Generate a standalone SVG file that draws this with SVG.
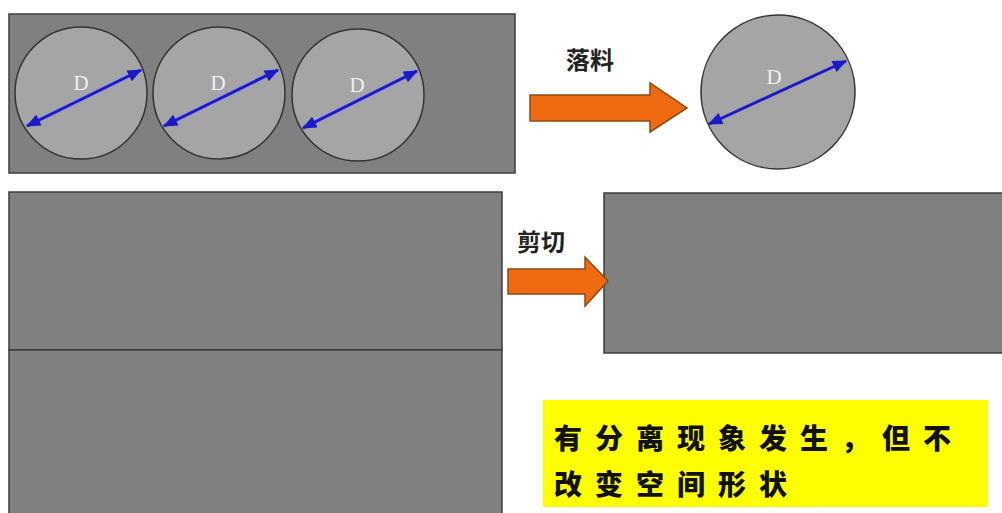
<svg xmlns="http://www.w3.org/2000/svg" width="1002" height="513" viewBox="0 0 1002 513">
<style>
.plate{fill:#808080;stroke:#3c3c3c;stroke-width:1.5}
.disc{fill:#a5a5a5;stroke:#333;stroke-width:1.5}
.dim{stroke:#1a1ac8;stroke-width:3;marker-start:url(#ah);marker-end:url(#ah)}
.halo{stroke:#8f8fff;stroke-width:5;opacity:0.5}
.d{font-family:"Liberation Serif",serif;font-size:21px;fill:#f0f0f0}
.lbl{font-family:"Noto Sans CJK SC","Noto Sans",sans-serif;font-size:24px;font-weight:bold;fill:#222}
.big{fill:#f06a12;stroke:#8a4a14;stroke-width:1.5}
.note{font-family:"Noto Sans CJK SC","Noto Sans",sans-serif;font-size:28px;font-weight:900;fill:#111;letter-spacing:13px}
</style>
<defs>
<marker id="ah" viewBox="0 0 12 10" refX="11" refY="5" markerWidth="5.5" markerHeight="4" orient="auto-start-reverse" markerUnits="strokeWidth">
<path d="M0,0 L12,5 L0,10 z" fill="#1a1ac8"/>
</marker>
</defs>
<rect width="1002" height="513" fill="#fff"/>
<g id="strip">
<rect class="plate" x="9" y="14" width="506" height="159"/>
</g>
<g id="blank1">
<circle class="disc" cx="81" cy="93" r="66"/>
<line class="halo" x1="27" y1="126" x2="141" y2="70"/>
<line class="dim" x1="27" y1="126" x2="141" y2="70"/>
<text class="d" x="81" y="90" text-anchor="middle">D</text>
</g>
<g id="blank2">
<circle class="disc" cx="219" cy="93" r="66"/>
<line class="halo" x1="164" y1="126" x2="278" y2="70"/>
<line class="dim" x1="164" y1="126" x2="278" y2="70"/>
<text class="d" x="218" y="90" text-anchor="middle">D</text>
</g>
<g id="blank3">
<circle class="disc" cx="358" cy="95" r="66"/>
<line class="halo" x1="303" y1="128" x2="417" y2="71"/>
<line class="dim" x1="303" y1="128" x2="417" y2="71"/>
<text class="d" x="357" y="92" text-anchor="middle">D</text>
</g>
<g id="result-disc">
<circle class="disc" cx="778" cy="92" r="77"/>
<line class="dim" x1="709" y1="124" x2="846" y2="61"/>
<text class="d" x="774" y="84" text-anchor="middle">D</text>
</g>
<g id="sheet">
<rect class="plate" x="9" y="192" width="493" height="158"/>
<rect class="plate" x="9" y="350" width="493" height="170"/>
</g>
<g id="cut-piece">
<rect class="plate" x="604" y="193" width="402" height="160"/>
</g>
<g id="note">
<rect x="543" y="400" width="445" height="107" fill="#ffff00"/>
<text class="note" x="554" y="449">有分离现象发生，但不</text>
<text class="note" x="554" y="495">改变空间形状</text>
</g>
<g id="connectors">
<path class="big" d="M530,95 L650,95 L650,83 L687,108 L650,132 L650,121 L530,121 z"/>
<text class="lbl" x="566" y="69">落料</text>
<path class="big" d="M508,269 L585,269 L585,257 L608,281 L585,306 L585,294 L508,294 z"/>
<text class="lbl" x="517" y="251">剪切</text>
</g>
</svg>
